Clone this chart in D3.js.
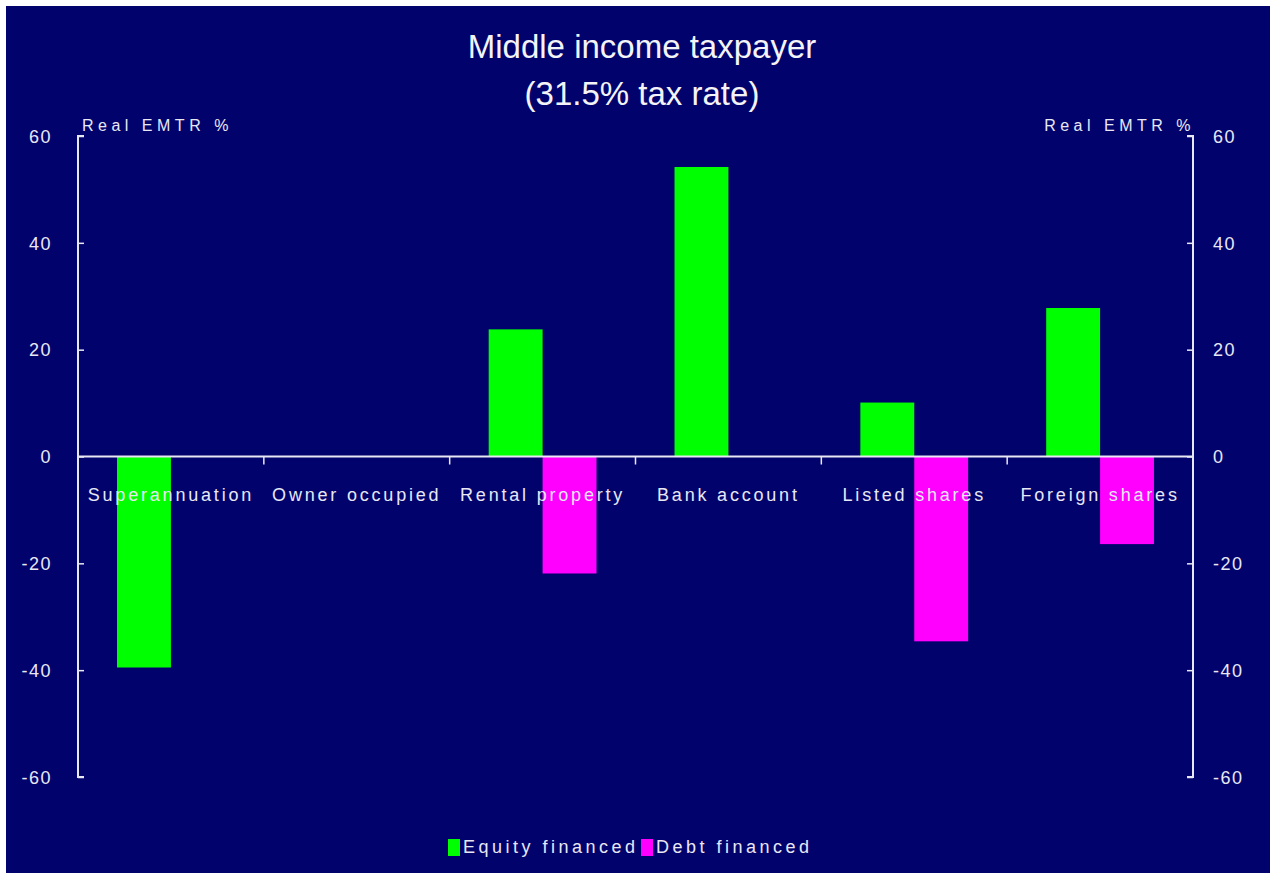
<!DOCTYPE html>
<html>
<head>
<meta charset="utf-8">
<script src="https://cdn.jsdelivr.net/npm/d3@7"></script>
<style>
  html, body { margin: 0; padding: 0; background: #fff; }
  svg { display: block; }
</style>
</head>
<body>
<div id="chart"></div>
<script>
const categories = ["Superannuation", "Owner occupied", "Rental property", "Bank account", "Listed shares", "Foreign shares"];
const seriesNames = ["Equity financed", "Debt financed"];
const equity = [-39.5, 0, 23.8, 54.2, 10.1, 27.8];
const debt = [0, 0, -21.9, 0, -34.6, -16.4];
const yTicks = [-60, -40, -20, 0, 20, 40, 60];
const colors = ["#00ff00", "#ff00ff"];

const W = 1270, H = 873;
const margin = { top: 136, right: 77, bottom: 96, left: 78 };
const width = W - margin.left - margin.right,
      height = H - margin.top - margin.bottom;

const root = d3.select("#chart").append("svg")
  .attr("width", W).attr("height", H);

root.append("rect").attr("width", W).attr("height", H).attr("fill", "#fff");
root.append("rect").attr("x", 6).attr("y", 6).attr("width", W - 6).attr("height", H - 6).attr("fill", "#02026c");

const svg = root.append("g").attr("transform", `translate(${margin.left},${margin.top})`);

const x = d3.scaleBand().domain(categories).range([0, width]).padding(0);
const xs = d3.scaleBand().domain(seriesNames).range([0, x.bandwidth() * 0.58]).padding(0);
const y = d3.scaleLinear().domain([-60, 60]).range([height, 0]);

const axisColor = "#e8e8f4";
const fontFam = "'Liberation Sans', Arial, sans-serif";

// Bars
const data = categories.map((c, i) => ({ cat: c, vals: [equity[i], debt[i]] }));
const groups = svg.selectAll("g.cat").data(data).join("g")
  .attr("class", "cat")
  .attr("transform", d => `translate(${x(d.cat) + x.bandwidth() / 2 - xs.range()[1] / 2},0)`);
groups.selectAll("rect").data(d => d.vals.map((v, j) => ({ v, s: seriesNames[j], j })))
  .join("rect")
  .attr("x", d => xs(d.s))
  .attr("width", xs.bandwidth())
  .attr("y", d => y(Math.max(0, d.v)))
  .attr("height", d => Math.abs(y(d.v) - y(0)))
  .attr("fill", d => colors[d.j]);

// Left axis
const left = svg.append("g").call(d3.axisRight(y).tickValues(yTicks).tickSize(6).tickFormat(""));
left.select(".domain").attr("stroke", axisColor).attr("stroke-width", 2).attr("d", `M6,0H0V${height}H6`);
left.selectAll(".tick line").attr("stroke", axisColor).attr("stroke-width", 1.5);
left.selectAll(".tick").each(function (d) {
  d3.select(this).append("text")
    .attr("x", -26).attr("dy", "0.35em")
    .attr("text-anchor", "end")
    .attr("fill", axisColor)
    .style("font-family", fontFam).style("font-size", "18px")
    .style("letter-spacing", "1.5px")
    .text(d);
});

// Right axis
const right = svg.append("g").attr("transform", `translate(${width},0)`)
  .call(d3.axisLeft(y).tickValues(yTicks).tickSize(6).tickFormat(""));
right.select(".domain").attr("stroke", axisColor).attr("stroke-width", 2).attr("d", `M-6,0H0V${height}H-6`);
right.selectAll(".tick line").attr("stroke", axisColor).attr("stroke-width", 1.5);
right.selectAll(".tick").each(function (d) {
  d3.select(this).append("text")
    .attr("x", 20).attr("dy", "0.35em")
    .attr("text-anchor", "start")
    .attr("fill", axisColor)
    .style("font-family", fontFam).style("font-size", "18px")
    .style("letter-spacing", "1.5px")
    .text(d);
});

// Zero axis with category boundary ticks
const zero = svg.append("g").attr("transform", `translate(0,${y(0)})`);
zero.append("line").attr("x1", 0).attr("x2", width).attr("stroke", axisColor).attr("stroke-width", 2);
zero.selectAll("line.tk").data(categories.slice(1)).join("line")
  .attr("class", "tk")
  .attr("x1", d => x(d)).attr("x2", d => x(d))
  .attr("y1", 0).attr("y2", 8)
  .attr("stroke", axisColor).attr("stroke-width", 1.5);
zero.selectAll("text").data(categories).join("text")
  .attr("x", d => x(d) + x.bandwidth() / 2)
  .attr("y", 44)
  .attr("text-anchor", "middle")
  .attr("fill", axisColor)
  .style("font-family", fontFam).style("font-size", "18px")
  .style("letter-spacing", "2.8px")
  .text(d => d);

// Axis titles
svg.append("text").attr("x", 4).attr("y", -5)
  .attr("fill", axisColor).style("font-family", fontFam).style("font-size", "16px")
  .style("letter-spacing", "4.5px")
  .text("Real EMTR %");
svg.append("text").attr("x", width + 2).attr("y", -5).attr("text-anchor", "end")
  .attr("fill", axisColor).style("font-family", fontFam).style("font-size", "16px")
  .style("letter-spacing", "4.5px")
  .text("Real EMTR %");

// Title
const title = root.append("text").attr("x", 642).attr("text-anchor", "middle")
  .attr("fill", "#f4f4f8").style("font-family", fontFam).style("font-size", "33px");
title.append("tspan").attr("x", 642).attr("y", 58).text("Middle income taxpayer");
title.append("tspan").attr("x", 642).attr("y", 105).text("(31.5% tax rate)");

// Legend
const legend = root.append("g").attr("transform", "translate(448,847)");
const legendX = [0, 193];
seriesNames.forEach((s, i) => {
  const g = legend.append("g").attr("transform", `translate(${legendX[i]},0)`);
  g.append("rect").attr("x", 0).attr("y", -8).attr("width", 12).attr("height", 17).attr("fill", colors[i]);
  g.append("text").attr("x", 15).attr("y", 0).attr("dy", "0.35em")
    .attr("fill", axisColor).style("font-family", fontFam).style("font-size", "18px")
    .style("letter-spacing", "3.5px")
    .text(s);
});
</script>
</body>
</html>
